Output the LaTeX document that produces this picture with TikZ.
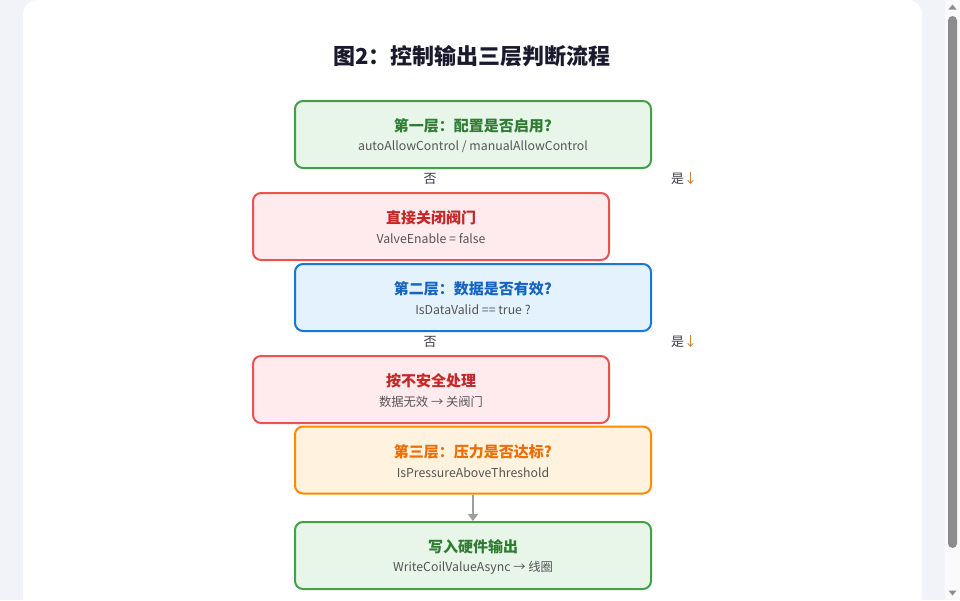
\documentclass[tikz,border=0pt]{standalone}
\usepackage{fontspec}
\setmainfont{Noto Sans CJK SC}
\usetikzlibrary{arrows.meta}
\definecolor{pagebg}{HTML}{F2F3F8}
\definecolor{titlec}{HTML}{1A1A2E}
\definecolor{subc}{HTML}{555555}
\definecolor{gB}{HTML}{43A047}\definecolor{gF}{HTML}{E8F5E9}\definecolor{gT}{HTML}{2E7D32}
\definecolor{rB}{HTML}{E95451}\definecolor{rF}{HTML}{FFEBEE}\definecolor{rT}{HTML}{C62828}
\definecolor{bB}{HTML}{1976D2}\definecolor{bF}{HTML}{E3F2FD}\definecolor{bT}{HTML}{1565C0}
\definecolor{oB}{HTML}{FB8C00}\definecolor{oF}{HTML}{FFF3E0}\definecolor{oT}{HTML}{EF6C00}
\definecolor{arrc}{HTML}{9E9E9E}
\definecolor{yesarr}{HTML}{C8741E}
\tikzset{
  box/.style={draw, line width=2pt, rounded corners=8pt, minimum width=356pt, minimum height=67pt, inner sep=0pt},
  gbox/.style={box, draw=gB, fill=gF},
  rbox/.style={box, draw=rB, fill=rF},
  bbox/.style={box, draw=bB, fill=bF},
  obox/.style={box, draw=oB, fill=oF},
  ttl/.style={inner sep=0pt, font=\fontsize{15}{17}\selectfont\bfseries},
  sub/.style={inner sep=0pt, text=subc, font=\fontsize{12.3}{14}\selectfont},
  lbl/.style={inner sep=0pt, text=titlec!85, font=\fontsize{13}{15}\selectfont},
}
\begin{document}
\begin{tikzpicture}[x=1pt,y=-1pt]
\useasboundingbox (0,0) rectangle (960,600);
\fill[pagebg] (0,0) rectangle (960,600);
\fill[white, rounded corners=14pt] (23,0) rectangle (922,640);
% scrollbar
\fill[white!96!gray] (945,0) rectangle (960,600);
\fill[gray!90, rounded corners=4.5pt] (948,16) rectangle (957,548);
\fill[gray!90] (948.5,9.5) -- (956.5,9.5) -- (952.5,4.5) -- cycle;
\fill[gray!90] (948.5,590.5) -- (956.5,590.5) -- (952.5,595.5) -- cycle;

\node[inner sep=0pt, text=titlec, font=\fontsize{22}{26}\selectfont\bfseries] (title) at (472,56) {图2：控制输出三层判断流程};

\node[gbox] (b1) at (473,134.5) {};
\node[ttl, text=gT] (b1t) at ([yshift=8.5pt]b1.center) {第一层：配置是否启用?};
\node[sub] (b1s) at ([yshift=-12.5pt]b1.center) {autoAllowControl / manualAllowControl};

\node[lbl] (no1) at (430,179) {否};
\node[lbl] (yes1) at (684,179) {是\textcolor{yesarr}{↓}};

\node[rbox] (b2) at (431,226.5) {};
\node[ttl, text=rT] (b2t) at ([yshift=9pt]b2.center) {直接关闭阀门};
\node[sub] (b2s) at ([yshift=-12.5pt]b2.center) {ValveEnable = false};

\node[bbox] (b3) at (473,297.5) {};
\node[ttl, text=bT] (b3t) at ([yshift=8.5pt]b3.center) {第二层：数据是否有效?};
\node[sub] (b3s) at ([yshift=-12.5pt]b3.center) {IsDataValid == true ?};

\node[lbl] (no2) at (430,342) {否};
\node[lbl] (yes2) at (684,342) {是\textcolor{yesarr}{↓}};

\node[rbox] (b4) at (431,389.5) {};
\node[ttl, text=rT] (b4t) at ([yshift=8.5pt]b4.center) {按不安全处理};
\node[sub] (b4s) at ([yshift=-12.5pt]b4.center) {数据无效 → 关阀门};

\node[obox] (b5) at (473,460) {};
\node[ttl, text=oT] (b5t) at ([yshift=8pt]b5.center) {第三层：压力是否达标?};
\node[sub] (b5s) at ([yshift=-13pt]b5.center) {IsPressureAboveThreshold};

\node[gbox] (b6) at (473,555.5) {};
\node[ttl, text=gT] (b6t) at ([yshift=8.5pt]b6.center) {写入硬件输出};
\node[sub] (b6s) at ([yshift=-12.5pt]b6.center) {WriteCoilValueAsync → 线圈};

\draw[arrc, line width=2pt, -{Triangle[length=7pt,width=10pt]}] (b5.south) -- (b6.north);
\end{tikzpicture}
\end{document}
